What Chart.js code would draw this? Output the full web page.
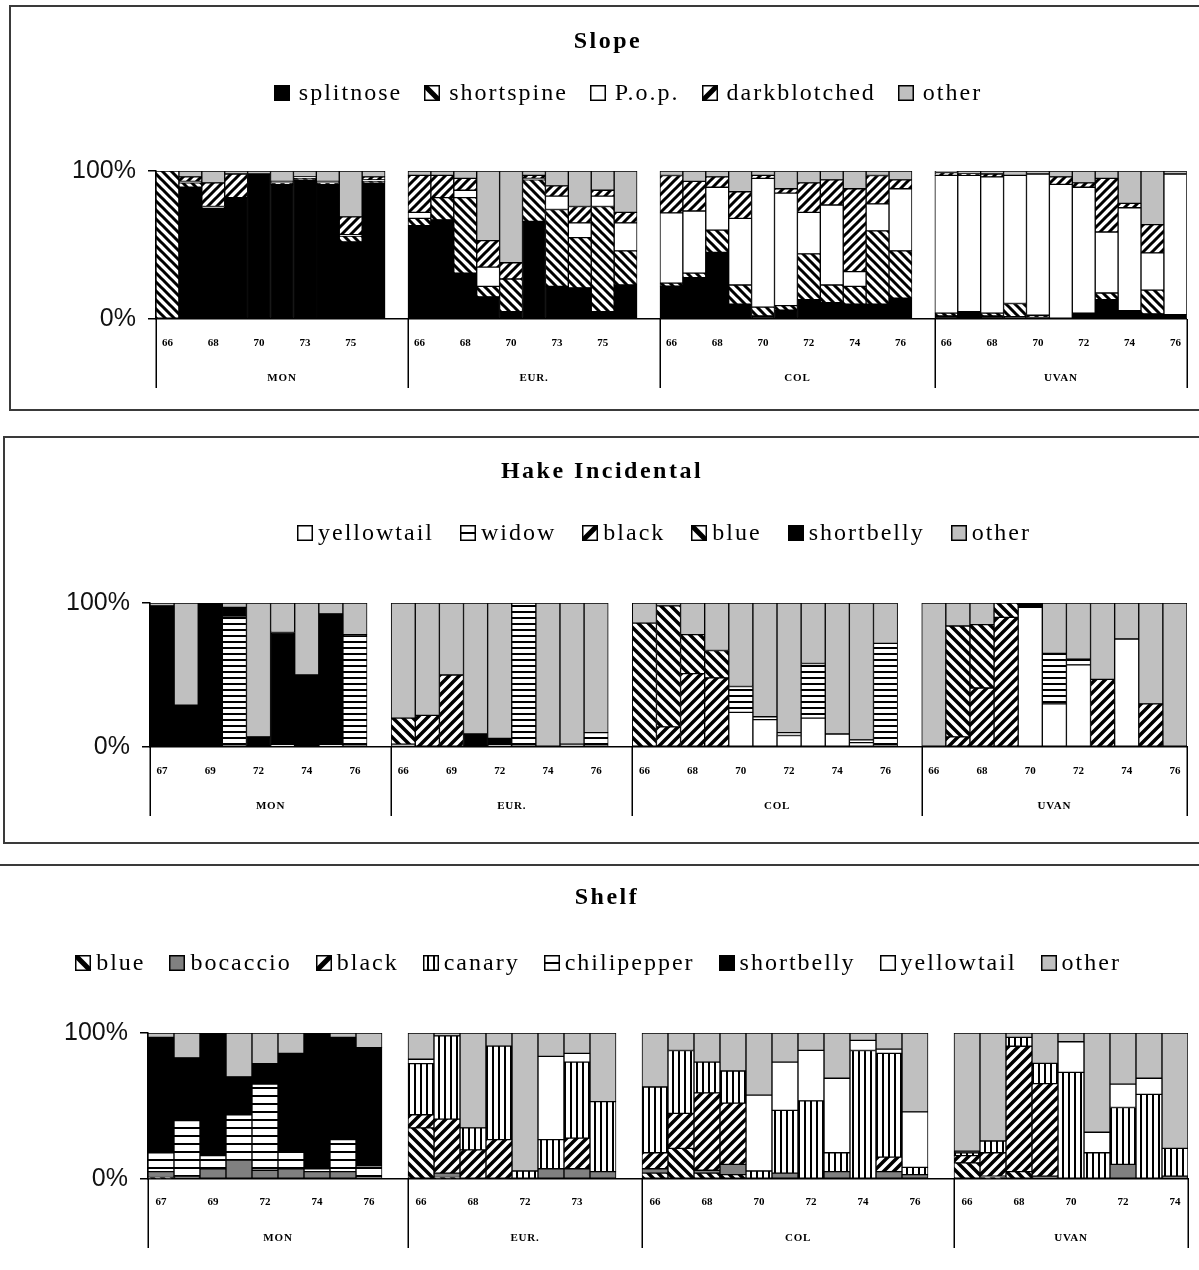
<!DOCTYPE html>
<html>
<head>
<meta charset="utf-8">
<script src="https://cdn.jsdelivr.net/npm/chart.js@4.4.1/dist/chart.umd.min.js"></script>
<style>
  html, body { margin: 0; padding: 0; background: #fff; }
  body { width: 1199px; height: 1270px; position: relative; overflow: hidden; }
  .frame { position: absolute; border: 2px solid #3a3a3a; box-sizing: border-box; }
  .panel { position: absolute; left: 0; width: 1199px; }
  canvas { display: block; }
</style>
</head>
<body>
<div class="frame" style="left:9px; top:5px; width:1300px; height:406px;"></div>
<div class="frame" style="left:3px; top:436px; width:1300px; height:408px;"></div>
<div class="frame" style="left:-10px; top:864px; width:1300px; height:500px;"></div>

<div class="panel" style="top:0; height:425px;"><canvas id="slope" width="1199" height="425"></canvas></div>
<div class="panel" style="top:425px; height:430px;"><canvas id="hake" width="1199" height="430"></canvas></div>
<div class="panel" style="top:855px; height:415px;"><canvas id="shelf" width="1199" height="415"></canvas></div>

<script>
// ---------------- Slope ----------------
const slopeGroups = ['MON', 'EUR.', 'COL', 'UVAN'];
const slopeYears = [
  ['66', '', '68', '', '70', '', '73', '', '75', ''],
  ['66', '', '68', '', '70', '', '73', '', '75', ''],
  ['66', '', '68', '', '70', '', '72', '', '74', '', '76'],
  ['66', '', '68', '', '70', '', '72', '', '74', '', '76']
];
const slopeSeries = ['splitnose', 'shortspine', 'P.o.p.', 'darkblotched', 'other'];
const slopeSplitnose = [
  0, 89, 75, 82, 98, 91, 94, 91, 52, 92,
  63, 67, 31, 15, 5, 66, 22, 21, 5, 23,
  22, 28, 45, 10, 2, 6, 13, 11, 10, 10, 14,
  2, 5, 2, 1.5, 1, 0, 4, 13, 5.7, 3.4, 3
];
const slopeShortspine = [
  100, 3, 0, 0, 0, 1, 1, 1, 4, 1,
  5, 15, 51, 7, 22, 28, 52, 34, 71, 23,
  2, 3, 15, 13, 6, 3, 31, 12, 12, 49, 32,
  2, 0, 2, 9, 1.5, 0, 0, 4.5, 0, 16, 0
];
const slopePop = [
  0, 1, 1, 0, 0, 1, 1, 1, 1, 1,
  4, 0, 5, 13, 0, 1, 9, 10, 7, 19,
  47, 42, 29, 45, 87, 76, 28, 54, 10, 18, 42,
  93, 92, 92, 87, 95, 91, 85, 41, 70, 25, 95
];
const slopeDarkblotched = [
  0, 3, 16, 16, 0, 0, 0, 0, 12, 2,
  25, 15, 8, 18, 11, 2, 7, 11, 4, 7,
  25, 20, 7, 18, 2, 3, 20, 17, 56, 19, 6,
  2, 1, 2, 0, 0, 5, 3, 36, 3, 19, 0
];
const slopeOther = [
  0, 4, 8, 2, 2, 7, 4, 7, 31, 4,
  3, 3, 5, 47, 62, 3, 10, 24, 13, 28,
  3, 7, 4, 14, 3, 12, 8, 6, 12, 3, 6,
  1, 2, 2, 3, 2, 4, 8, 5, 22, 36, 2
];
const slopeFills = ['black', 'back', 'white', 'fwd', 'gray'];

// ---------------- Hake Incidental ----------------
const hakeGroups = ['MON', 'EUR.', 'COL', 'UVAN'];
const hakeYears = [
  ['67', '', '69', '', '72', '', '74', '', '76'],
  ['66', '', '69', '', '72', '', '74', '', '76'],
  ['66', '', '68', '', '70', '', '72', '', '74', '', '76'],
  ['66', '', '68', '', '70', '', '72', '', '74', '', '76']
];
const hakeSeries = ['yellowtail', 'widow', 'black', 'blue', 'shortbelly', 'other'];
const hakeYellowtail = [
  0, 0, 0, 0, 0, 1.5, 0, 1.5, 0,
  2, 0, 0, 0, 0, 0, 0, 2, 0,
  0, 0, 0, 0, 24, 19, 8, 20, 9, 3, 0,
  0, 0, 0, 0, 97, 30, 57, 0, 75, 0, 0
];
const hakeWidow = [
  0, 0, 0, 91, 0, 0, 0, 0, 77,
  0, 0, 0, 0, 2, 100, 0, 0, 10,
  0, 0, 0, 0, 18, 2, 2, 38, 0, 2, 72,
  0, 0, 0, 0, 0, 35, 4, 0, 0, 0, 0
];
const hakeBlack = [
  0, 0, 0, 0, 0, 0, 0, 0, 0,
  0, 22, 50, 0, 0, 0, 0, 0, 0,
  0, 14, 51, 48, 0, 0, 0, 0, 0, 0, 0,
  0, 7, 41, 90, 0, 0, 0, 47, 0, 30, 0
];
const hakeBlue = [
  0, 0, 0, 0, 0, 0, 0, 0, 0,
  18, 0, 0, 0, 0, 0, 0, 0, 0,
  86, 84, 27, 19, 0, 0, 0, 0, 0, 0, 0,
  0, 77, 44, 10, 0, 0, 0, 0, 0, 0, 0
];
const hakeShortbelly = [
  98, 29, 100, 6, 7, 78, 50, 91, 1,
  0, 0, 0, 9, 4, 0, 0, 0, 0,
  0, 0, 0, 0, 0, 0, 0, 0, 0, 0, 0,
  0, 0, 0, 0, 3, 0, 0, 0, 0, 0, 0
];
const hakeOther = [
  2, 71, 0, 3, 93, 20.5, 50, 7.5, 22,
  80, 78, 50, 91, 94, 0, 100, 98, 90,
  14, 2, 22, 33, 58, 79, 90, 42, 91, 95, 28,
  100, 16, 15, 0, 0, 35, 39, 53, 25, 70, 100
];
const hakeFills = ['white', 'horiz', 'fwd', 'back', 'black', 'gray'];

// ---------------- Shelf ----------------
const shelfGroups = ['MON', 'EUR.', 'COL', 'UVAN'];
const shelfYears = [
  ['67', '', '69', '', '72', '', '74', '', '76'],
  ['66', '', '68', '', '72', '', '73', ''],
  ['66', '', '68', '', '70', '', '72', '', '74', '', '76'],
  ['66', '', '68', '', '70', '', '72', '', '74']
];
const shelfSeries = ['blue', 'bocaccio', 'black', 'canary', 'chilipepper', 'shortbelly', 'yellowtail', 'other'];
const shelfBlue = [
  1, 0, 0, 0, 0, 0, 0, 0, 0,
  35, 1, 0, 0, 0, 0, 0, 0,
  4, 21, 4, 3, 0, 0, 0, 0, 0, 0, 0,
  11, 1, 5, 0, 0, 0, 0, 0, 0
];
const shelfBocaccio = [
  4, 2, 7, 13, 6, 7, 5, 5, 0,
  0, 3, 0, 0, 0, 7, 7, 5,
  3, 0, 2, 7, 0, 4, 0, 5, 0, 5, 3,
  0, 1, 0, 2, 0, 0, 10, 0, 2
];
const shelfBlack = [
  0, 0, 0, 0, 0, 0, 0, 0, 0,
  9, 37, 20, 27, 0, 0, 21, 0,
  11, 24, 53, 42, 0, 0, 0, 0, 0, 10, 0,
  5, 16, 85, 64, 0, 0, 0, 0, 0
];
const shelfCanary = [
  0, 0, 0, 0, 0, 0, 0, 0, 0,
  35, 57, 15, 64, 5.5, 20, 52, 48,
  45, 43, 21, 22, 5.5, 43, 54, 13, 88, 71, 5,
  2, 8, 6, 14, 73, 18, 39, 58, 19
];
const shelfChilipepper = [
  13, 38, 9, 31, 59, 12, 2, 22, 9,
  0, 0, 0, 0, 0, 0, 0, 0,
  0, 0, 0, 0, 0, 0, 0, 0, 0, 0, 0,
  1, 0, 0, 0, 0, 0, 0, 0, 0
];
const shelfShortbelly = [
  79, 43, 84, 26, 14, 67, 93, 70, 81,
  0, 0, 0, 0, 0, 0, 0, 0,
  0, 0, 0, 0, 0, 0, 0, 0, 0, 0, 0,
  0, 0, 0, 0, 0, 0, 0, 0, 0
];
const shelfYellowtail = [
  0, 0, 0, 0, 0, 0, 0, 0, 0,
  3, 0, 0, 0, 0, 57, 6, 0,
  0, 0, 0, 0, 52, 33, 35, 51, 7, 3, 38,
  0, 0, 0, 0, 21, 14, 16, 11, 0
];
const shelfOther = [
  3, 17, 0, 30, 21, 14, 0, 3, 10,
  18, 2, 65, 9, 94.5, 16, 14, 47,
  37, 12, 20, 26, 42.5, 20, 12, 31, 5, 11, 54,
  81, 74, 3, 21, 6, 68, 35, 31, 79
];
const shelfFills = ['back', 'dgray', 'fwd', 'vert', 'horiz', 'black', 'white', 'gray'];

// ---------------- drawing helpers ----------------
const SERIF = "'Liberation Serif', 'Times New Roman', serif";
const SANS = "'Liberation Sans', Arial, sans-serif";

// Tiled fills used for the bar segments
function makeFill(kind, dims) {
  if (kind === 'black') return '#000000';
  if (kind === 'white') return '#ffffff';
  if (kind === 'gray') return '#c0c0c0';
  if (kind === 'dgray') return '#808080';
  const [s, lw] = dims[kind];
  const c = document.createElement('canvas');
  c.width = s; c.height = s;
  const g = c.getContext('2d');
  g.fillStyle = '#fff';
  g.fillRect(0, 0, s, s);
  g.fillStyle = '#000';
  g.strokeStyle = '#000';
  g.lineWidth = lw;
  if (kind === 'back' || kind === 'fwd') {
    g.beginPath();
    for (let k = -2; k <= 2; k++) {
      if (kind === 'back') { g.moveTo(k * s - s, -s); g.lineTo(k * s + 2 * s, 2 * s); }
      else { g.moveTo(k * s + s, -s); g.lineTo(k * s - 2 * s, 2 * s); }
    }
    g.stroke();
  } else if (kind === 'horiz') {
    g.fillRect(0, 0, s, lw);
  } else if (kind === 'vert') {
    g.fillRect(0, 0, lw, s);
  }
  return g.createPattern(c, 'repeat');
}

// Small legend key box
function drawSwatch(ctx, kind, x, y, s) {
  ctx.save();
  ctx.translate(x, y);
  ctx.beginPath(); ctx.rect(0, 0, s, s); ctx.clip();
  const flat = { black: '#000', white: '#fff', gray: '#c0c0c0', dgray: '#808080' };
  ctx.fillStyle = flat[kind] || '#fff';
  ctx.fillRect(0, 0, s, s);
  ctx.fillStyle = '#000';
  ctx.strokeStyle = '#000';
  if (kind === 'back' || kind === 'fwd') {
    ctx.lineWidth = s * 0.32;
    ctx.beginPath();
    if (kind === 'back') { ctx.moveTo(-1, -1); ctx.lineTo(s + 1, s + 1); }
    else { ctx.moveTo(-1, s + 1); ctx.lineTo(s + 1, -1); }
    ctx.stroke();
  } else if (kind === 'horiz') {
    ctx.fillRect(0, Math.round(s / 2) - 1, s, 2);
  } else if (kind === 'vert') {
    ctx.fillRect(Math.round(s / 3) - 1, 0, 2, s);
    ctx.fillRect(Math.round(2 * s / 3) - 1, 0, 2, s);
  }
  ctx.restore();
  ctx.strokeStyle = '#000';
  ctx.lineWidth = 1.5;
  ctx.strokeRect(x + 0.75, y + 0.75, s - 1.5, s - 1.5);
}

function spacedText(ctx, text, x, y, font, spacing, align) {
  ctx.save();
  ctx.font = font;
  ctx.letterSpacing = spacing + 'px';
  ctx.textAlign = align;
  ctx.textBaseline = 'middle';
  ctx.fillStyle = '#000';
  ctx.fillText(text, x, y);
  ctx.restore();
}

// Title, legend, group separators and group names
function makeDecor(cfg) {
  return {
    id: 'panelDecor',
    afterDraw(chart) {
      const ctx = chart.ctx;
      const area = chart.chartArea;
      const xs = chart.scales.x;
      const half = (xs.getPixelForValue(1) - xs.getPixelForValue(0)) / 2;

      // title
      spacedText(ctx, cfg.title, cfg.titleX, cfg.titleY, 'bold 24px ' + SERIF, 2.5, 'center');

      // legend
      const L = cfg.legend;
      ctx.save();
      ctx.font = L.size + 'px ' + SERIF;
      ctx.letterSpacing = L.spacing + 'px';
      const widths = chart.data.datasets.map(d => ctx.measureText(d.label).width);
      ctx.restore();
      const total = widths.reduce((a, w) => a + L.box + L.gapText + w, 0) + L.gapItem * (widths.length - 1);
      let cx = L.cx - total / 2;
      chart.data.datasets.forEach((d, i) => {
        drawSwatch(ctx, d.fillKind, Math.round(cx), Math.round(L.y - L.box / 2), L.box);
        cx += L.box + L.gapText;
        spacedText(ctx, d.label, cx, L.y + 1, L.size + 'px ' + SERIF, L.spacing, 'left');
        cx += widths[i] + L.gapItem;
      });

      // group separators below the axis
      const edges = cfg.starts.map(i => xs.getPixelForValue(i) - half);
      edges.push(xs.getPixelForValue(cfg.count - 1) + half);
      ctx.save();
      ctx.strokeStyle = '#000';
      ctx.lineWidth = 1.5;
      ctx.beginPath();
      edges.forEach(x => {
        const px = Math.round(x) + 0.25;
        ctx.moveTo(px, area.bottom);
        ctx.lineTo(px, area.bottom + cfg.sepLen);
      });
      ctx.stroke();
      ctx.restore();

      cfg.groups.forEach((name, g) => {
        const mid = (edges[g] + edges[g + 1]) / 2;
        spacedText(ctx, name, mid, area.bottom + cfg.groupOffset, 'bold 11px ' + SERIF, 0.8, 'center');
      });
    }
  };
}

function buildPanel(canvasId, p) {
  // categories: each group's years, with one blank slot between groups
  const labels = [];
  const starts = [];
  const catOf = [];
  p.years.forEach((ys, g) => {
    starts.push(labels.length);
    ys.forEach(y => { catOf.push(labels.length); labels.push(y); });
    if (g < p.years.length - 1) labels.push('');
  });
  const n = labels.length;
  const nBars = catOf.length;
  const totals = [];
  for (let i = 0; i < nBars; i++) totals.push(p.values.reduce((s, arr) => s + arr[i], 0));

  const datasets = p.values.map((arr, j) => {
    const data = new Array(n).fill(null);
    arr.forEach((v, i) => { data[catOf[i]] = totals[i] ? v / totals[i] * 100 : 0; });
    return {
      label: p.series[j],
      data,
      fillKind: p.fills[j],
      backgroundColor: makeFill(p.fills[j], p.dims),
      borderColor: '#000',
      borderWidth: 1,
      borderSkipped: false,
      barPercentage: 1,
      categoryPercentage: 1
    };
  });

  const canvas = document.getElementById(canvasId);
  const H = canvas.height;
  const W = canvas.width;

  new Chart(canvas, {
    type: 'bar',
    data: { labels, datasets },
    options: {
      responsive: false,
      animation: false,
      events: [],
      layout: { padding: { left: 0, right: W - p.area.right, top: p.area.top, bottom: 0 } },
      plugins: { legend: { display: false }, title: { display: false }, tooltip: { enabled: false } },
      scales: {
        x: {
          stacked: true,
          grid: { display: false, drawTicks: false },
          border: { display: true, color: '#000', width: 1.5 },
          ticks: {
            autoSkip: false, maxRotation: 0, minRotation: 0,
            color: '#000', padding: p.tickPad,
            font: { family: SERIF, size: 11, weight: 'bold' }
          },
          afterFit(s) { s.height = H - p.area.bottom; }
        },
        y: {
          stacked: true,
          min: 0, max: 100,
          ticks: {
            stepSize: 100,
            color: '#111',
            padding: 12,
            font: { family: SANS, size: 25 },
            callback: v => v + '%'
          },
          grid: { drawOnChartArea: false, drawTicks: true, tickLength: 8, color: '#000', lineWidth: 1.5 },
          border: { display: true, color: '#000', width: 1.5 },
          afterFit(s) { s.width = p.area.left; }
        }
      }
    },
    plugins: [makeDecor({
      title: p.title, titleX: p.titleX, titleY: p.titleY,
      legend: p.legend,
      groups: p.groups, starts, count: n,
      sepLen: 69, groupOffset: 59
    })]
  });
}

buildPanel('slope', {
  title: 'Slope', titleX: 608, titleY: 42,
  legend: { cx: 628, y: 93, size: 24, spacing: 2, box: 16, gapText: 9, gapItem: 22 },
  groups: slopeGroups, years: slopeYears, series: slopeSeries, fills: slopeFills,
  values: [slopeSplitnose, slopeShortspine, slopePop, slopeDarkblotched, slopeOther],
  dims: { back: [9, 3], fwd: [9, 3] },
  area: { left: 156, right: 1188, top: 171, bottom: 319 },
  tickPad: 18
});

buildPanel('hake', {
  title: 'Hake Incidental', titleX: 602, titleY: 47,
  legend: { cx: 664, y: 108, size: 24, spacing: 2, box: 16, gapText: 5, gapItem: 26 },
  groups: hakeGroups, years: hakeYears, series: hakeSeries, fills: hakeFills,
  values: [hakeYellowtail, hakeWidow, hakeBlack, hakeBlue, hakeShortbelly, hakeOther],
  dims: { back: [10, 3.5], fwd: [10, 3.5], horiz: [6, 2] },
  area: { left: 150, right: 1187, top: 178, bottom: 322 },
  tickPad: 18
});

buildPanel('shelf', {
  title: 'Shelf', titleX: 607, titleY: 43,
  legend: { cx: 598, y: 108, size: 24, spacing: 2, box: 16, gapText: 5, gapItem: 24 },
  groups: shelfGroups, years: shelfYears, series: shelfSeries, fills: shelfFills,
  values: [shelfBlue, shelfBocaccio, shelfBlack, shelfCanary, shelfChilipepper, shelfShortbelly, shelfYellowtail, shelfOther],
  dims: { back: [10, 3.5], fwd: [10, 3.5], horiz: [8, 2], vert: [6, 2] },
  area: { left: 148, right: 1188, top: 178, bottom: 324 },
  tickPad: 17
});
</script>
</body>
</html>
